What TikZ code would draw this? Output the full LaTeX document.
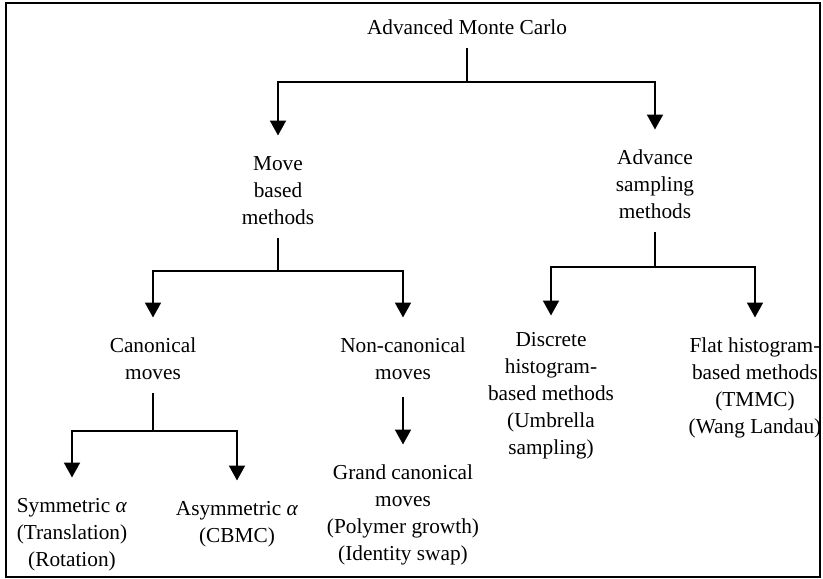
\documentclass[tikz,border=0pt]{standalone}
\usepackage{fontspec}
\setmainfont{Liberation Serif}
\usetikzlibrary{arrows.meta}
\begin{document}
\begin{tikzpicture}[x=1pt,y=-1pt,
  txt/.style={align=center,font=\fontsize{21.3}{27}\selectfont,inner sep=0pt,anchor=north},
  ln/.style={line width=2pt,shorten <=5pt},
  arr/.style={line width=2pt,-{Triangle[width=16pt,length=15pt]},shorten >=16pt},
  frame/.style={line width=1.6pt}]
\useasboundingbox (0,0) rectangle (823,579);
\draw[frame] (6,3) rectangle (820,577);

\node[txt] (amc) at (467,15.5) {\strut Advanced Monte Carlo\strut};
\node[txt] (move) at (278,151.5) {\strut Move\\based\\methods\strut};
\node[txt] (adv) at (655,145.5) {\strut Advance\\sampling\\methods\strut};
\node[txt] (can) at (153,333.5) {\strut Canonical\\moves\strut};
\node[txt] (noncan) at (403,333.5) {\strut Non-canonical\\moves\strut};
\node[txt] (disc) at (551,327.5) {\strut Discrete\\histogram-\\based methods\\(Umbrella\\sampling)\strut};
\node[txt] (flat) at (755,333.5) {\strut Flat histogram-\\based methods\\(TMMC)\\(Wang Landau)\strut};
\node[txt] (grand) at (403,460.5) {\strut Grand canonical\\moves\\(Polymer growth)\\(Identity swap)\strut};
\node[txt] (sym) at (72,493.5) {\strut Symmetric \textit{α}\\(Translation)\\(Rotation)\strut};
\node[txt] (asym) at (237,496.5) {\strut Asymmetric \textit{α}\\(CBMC)\strut};

\coordinate (j1) at (467,82);
\coordinate (j2) at (278,271);
\coordinate (j3) at (655,267);
\coordinate (j4) at (153,431);

\draw[ln] (amc) -- (j1);
\draw[arr] (j1) -| (move);
\draw[arr] (j1) -| (adv);
\draw[ln] (move) -- (j2);
\draw[arr] (j2) -| (can);
\draw[arr] (j2) -| (noncan);
\draw[ln] (adv) -- (j3);
\draw[arr,shorten >=12pt] (j3) -| (disc);
\draw[arr] (j3) -| (flat);
\draw[ln] (can) -- (j4);
\draw[arr] (j4) -| (sym);
\draw[arr] (j4) -| (asym);
\draw[arr,shorten <=9pt] (noncan) -- (grand);
\end{tikzpicture}
\end{document}
